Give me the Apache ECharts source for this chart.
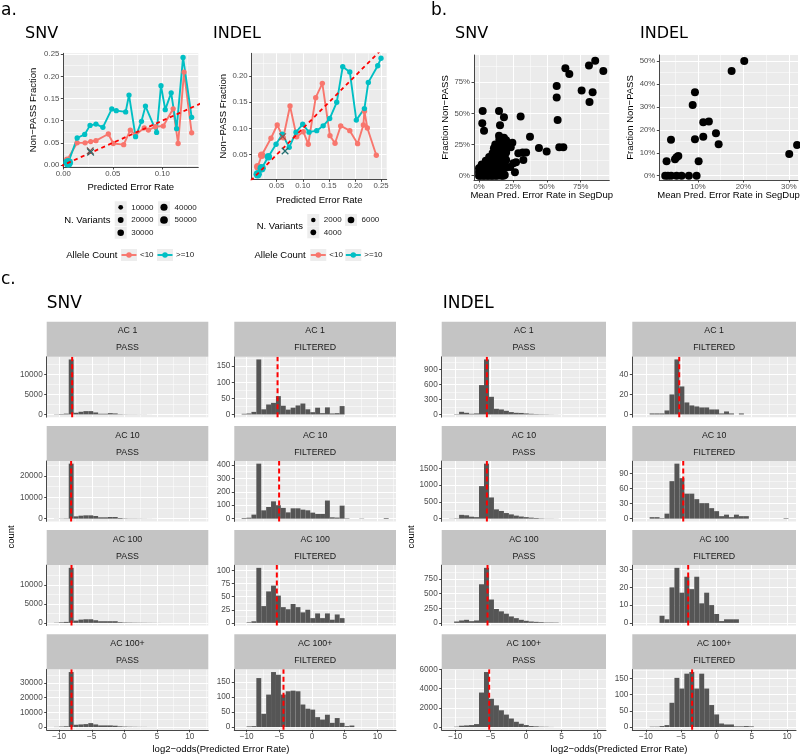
<!DOCTYPE html>
<html>
<head>
<meta charset="utf-8">
<title>Error rate figure</title>
<script src="https://cdn.jsdelivr.net/npm/echarts@6.0.0/dist/echarts.min.js"></script>
<style>
html,body{margin:0;padding:0;background:#ffffff;}
#chart{width:800px;height:755px;}
</style>
</head>
<body>
<div id="chart"></div>
<script>
// ================= DATA =================
// ---- Panel a: SNV ----
const snvLowX  = [0.004,0.014,0.022,0.0277,0.033,0.0455,0.0505,0.061,0.0677,0.073,0.0818,0.086,0.093,0.101,0.111,0.116,0.122,0.1297];
const snvLowY  = [0.012,0.05,0.05,0.053,0.055,0.07,0.0486,0.046,0.079,0.0675,0.084,0.079,0.0864,0.088,0.127,0.0486,0.21,0.0727];
const snvLowN  = [30000,15000,15000,15000,15000,15000,15000,15000,15000,15000,15000,15000,15000,15000,15000,15000,15000,15000];
const snvHighX = [0.005,0.014,0.0216,0.027,0.033,0.040,0.049,0.0535,0.063,0.0664,0.073,0.079,0.083,0.0943,0.0987,0.103,0.109,0.1145,0.121,0.1297];
const snvHighY = [0.005,0.061,0.069,0.0895,0.0925,0.085,0.1266,0.1227,0.12,0.158,0.064,0.0986,0.133,0.0736,0.179,0.125,0.163,0.082,0.243,0.1077];
const snvHighN = [95000,15000,15000,15000,15000,15000,15000,15000,15000,15000,15000,15000,15000,15000,15000,15000,15000,15000,15000,15000];
const snvMeanLow  = [0.0272,0.032];
const snvMeanHigh = [0.0276,0.029];
const snvSizeLegend = [10000,20000,30000,40000,50000];
// ---- Panel a: INDEL ----
const indLowX  = [0.0136,0.0212,0.039,0.051,0.0626,0.0755,0.0883,0.1009,0.1105,0.1247,0.1374,0.152,0.1617,0.1726,0.19,0.205,0.216,0.218,0.2236,0.2408];
const indLowY  = [0.027,0.049,0.0813,0.1066,0.0824,0.143,0.084,0.0938,0.07,0.1588,0.1862,0.0863,0.0718,0.1048,0.0958,0.071,0.1066,0.133,0.101,0.049];
const indLowN  = [8000,8000,3400,3400,3400,3400,3400,3400,3400,3400,3400,3400,3400,3400,3400,3400,3400,3400,3400,3400];
const indHighX = [0.0136,0.0212,0.034,0.0487,0.0607,0.074,0.087,0.0998,0.112,0.1266,0.139,0.1515,0.165,0.1765,0.19,0.2025,0.218,0.2255,0.2435,0.2498];
const indHighY = [0.0126,0.024,0.046,0.07,0.089,0.064,0.093,0.108,0.093,0.0958,0.105,0.119,0.15,0.218,0.208,0.116,0.138,0.188,0.2198,0.234];
const indHighN = [11000,11000,8000,3400,3400,3400,3400,3400,3400,3400,3400,3400,3400,3400,3400,3400,3400,3400,3400,3400];
const indMeanLow  = [0.0614,0.0843];
const indMeanHigh = [0.066,0.057];
const indSizeLegend = [2000,4000,6000];

// ---- Panel b: SegDup scatter ----
const snvSegdup = [
 [0.0,0.0],[0.01,0.0],[0.02,0.005],[0.03,0.0],[0.04,0.0],[0.05,0.005],[0.06,0.0],[0.07,0.0],[0.08,0.005],[0.09,0.0],[0.1,0.0],[0.11,0.005],[0.12,0.0],[0.135,0.0],[0.15,0.005],[0.165,0.0],[0.18,0.0],[0.19,0.005],
 [0.0,0.03],[0.01,0.025],[0.02,0.035],[0.03,0.03],[0.04,0.025],[0.05,0.035],[0.06,0.03],[0.07,0.025],[0.08,0.035],[0.09,0.03],[0.1,0.025],[0.11,0.035],[0.12,0.03],[0.13,0.025],[0.145,0.035],[0.16,0.03],[0.175,0.025],
 [0.0,0.06],[0.012,0.065],[0.025,0.055],[0.04,0.06],[0.055,0.065],[0.07,0.055],[0.085,0.06],[0.1,0.065],[0.115,0.055],[0.13,0.06],[0.145,0.065],[0.16,0.055],[0.175,0.06],[0.2,0.065],[0.23,0.07],
 [0.02,0.09],[0.04,0.085],[0.06,0.095],[0.08,0.09],[0.1,0.085],[0.12,0.095],[0.14,0.09],[0.16,0.085],[0.19,0.09],[0.253,0.1],[0.273,0.108],
 [0.05,0.12],[0.07,0.125],[0.09,0.115],[0.11,0.12],[0.13,0.125],[0.15,0.115],[0.17,0.12],[0.2,0.125],
 [0.075,0.15],[0.095,0.145],[0.115,0.155],[0.135,0.15],[0.16,0.145],[0.19,0.15],
 [0.1,0.18],[0.12,0.185],[0.14,0.175],[0.17,0.18],[0.2,0.185],[0.234,0.228],
 [0.11,0.22],[0.13,0.225],[0.15,0.215],[0.19,0.22],[0.209,0.241],[0.246,0.265],
 [0.12,0.25],[0.14,0.245],[0.18,0.255],[0.15,0.29],[0.2,0.285],[0.265,0.027],
 [0.027,0.52],[0.024,0.421],[0.037,0.361],[0.1475,0.52],[0.184,0.469],[0.155,0.404],[0.1475,0.321],[0.184,0.305],
 [0.307,0.475],[0.376,0.313],[0.442,0.222],[0.499,0.193],[0.592,0.228],[0.622,0.228],[0.58,0.446],[0.573,0.627],
 [0.573,0.721],[0.637,0.862],[0.666,0.816],[0.757,0.683],[0.811,0.884],[0.857,0.922],[0.917,0.841],[0.838,0.669],
 [0.815,0.591],[0.29,0.18],[0.322,0.185],[0.347,0.185],[0.327,0.126]
];
const indSegdup = [
 [0.2018,0.501],[0.174,0.457],[0.0934,0.364],[0.0884,0.309],[0.1117,0.233],[0.124,0.237],[0.1117,0.170],[0.1396,0.185],
 [0.1455,0.137],[0.0934,0.159],[0.1015,0.063],[0.3007,0.095],[0.318,0.134],[0.0407,0.157],[0.031,0.063],[0.0495,0.0716],
 [0.0568,0.086],[0.053,0.08],[0.028,0],[0.034,0],[0.041,0],[0.053,0],[0.064,0],[0.080,0],[0.097,0]
];

// ---- Panel c: histograms of log2-odds (30 bins each) ----
const snvBinStart = -10.775, snvBinWidth = 0.75;
const indBinStart = -10.87,  indBinWidth = 0.703;
const acLabels = ['AC 1','AC 10','AC 100','AC 100+'];
const snvPassCounts = [
 [60,120,200,13750,420,670,830,830,500,170,170,330,250,80,50,40,40,30,30,10,5,0,0,0,0,0,0,0,0,0],
 [50,100,150,25700,1077,1385,1540,1540,1230,615,615,770,770,300,150,100,100,80,60,40,20,0,0,0,0,0,0,0,0,0],
 [50,150,250,14570,600,860,950,950,690,430,430,430,430,170,100,80,60,50,40,30,20,10,0,0,0,0,0,0,0,0],
 [100,300,500,37300,1550,1780,2000,2670,1780,1100,1100,1100,900,450,300,200,150,100,80,50,30,0,0,0,0,0,0,0,0,0]
];
const snvFiltCounts = [
 [2,3,8,171,16,31,36,57,27,15,21,28,34,16,7,21,4,22,3,4,26,0,0,0,0,0,0,0,0,0],
 [5,7,30,410,62,87,129,100,80,47,77,77,67,62,45,35,35,135,10,8,97,3,0,0,2,0,0,0,0,5],
 [0,1,3,105,32,60,71,52,30,26,36,30,20,25,9,18,9,18,6,16,9,0,0,0,0,0,0,0,0,0],
 [0,2,3,163,44,108,183,174,108,119,121,119,75,61,58,33,25,41,14,30,14,3,5,0,0,0,0,0,0,0]
];
const indPassCounts = [
 [0,7,53,33,13,20,587,1100,353,113,100,73,47,33,30,20,13,8,6,5,3,2,1,0,0,0,0,0,0,0],
 [5,10,113,100,58,45,970,1640,632,277,230,167,127,90,63,45,30,20,10,5,5,3,0,0,0,0,0,0,0,0],
 [0,23,41,52,29,41,663,945,401,238,198,157,110,81,52,35,23,17,12,6,6,5,0,0,0,0,0,0,0,0],
 [0,34,137,170,206,309,3600,5740,2950,2264,1750,1300,890,550,343,206,103,70,34,25,10,0,0,0,0,0,0,0,0,0]
];
const indFiltCounts = [
 [0,0,1,1,1,4,20,55,28,12,9,8,7,7,5,5,1,3,1,0,1,0,0,0,0,0,0,0,0,0],
 [0,0,3,3,1,10,75,110,81,50,50,39,31,31,21,15,5,8,3,8,5,5,0,0,0,0,0,0,0,1],
 [0,0,0,0,4,2,20,31,17,26,19,26,11,17,10,5,1,2,2,2,0,0,0,0,0,0,0,0,0,0],
 [0,0,1,1,3,6,75,152,119,165,170,119,165,119,68,39,11,8,8,2,2,3,2,0,0,0,0,0,0,0]
];
const snvPassMedian = [-8.0,-8.16,-8.1,-8.1];
const snvFiltMedian = [-5.28,-5.04,-5.39,-4.37];
const indPassMedian = [-5.54,-5.54,-5.45,-5.21];
const indFiltMedian = [-5.27,-4.7,-4.0,-3.44];

// ---- tick labels ----
const snvAXTicks = [0,0.05,0.10];
const snvAYTicks = [0,0.05,0.10,0.15,0.20,0.25];
const indAXTicks = [0.05,0.10,0.15,0.20,0.25];
const indAYTicks = [0.05,0.10,0.15,0.20];
const snvBTicks  = [0,0.25,0.5,0.75];
const indBXTicks = [0.1,0.2,0.3];
const indBYTicks = [0,0.1,0.2,0.3,0.4,0.5];
const histXTicks = [-10,-5,0,5,10];
const snvPassTicks = [[0,5000,10000],[0,10000,20000],[0,5000,10000],[0,10000,20000,30000]];
const snvFiltTicks = [[0,50,100,150],[0,100,200,300,400],[0,25,50,75,100],[0,50,100,150]];
const indPassTicks = [[0,300,600,900],[0,500,1000,1500],[0,250,500,750],[0,2000,4000,6000]];
const indFiltTicks = [[0,20,40],[0,30,60,90],[0,10,20,30],[0,50,100,150]];

// ================= BUILD =================
const FONT = 'Liberation Sans';
const TFONT = 'DejaVu Sans';
const RED = '#F8766D', TEAL = '#00BFC4', BAR = '#555555';
const STRIP = '#c4c4c4';
const grids = [], xAxes = [], yAxes = [], series = [], elements = [];

function minors(t, lo, hi) {
  const s = t[1] - t[0], out = [];
  for (let v = t[0] - s / 2; v <= hi + 1e-9; v += s) {
    const r = Math.round(v * 1e6) / 1e6;
    if (r >= lo) out.push(r);
  }
  return out;
}
const fmt2 = v => v.toFixed(2);
const pct = v => Math.round(v * 100) + '%';
const intf = v => String(v);
const minusf = v => (v < 0 ? '\u2212' + Math.abs(v) : String(v));

function panel(o) {
  const gi = grids.length, xi = xAxes.length, yi = yAxes.length;
  grids.push({left:o.l, top:o.t, width:o.w, height:o.h, show:true, backgroundColor:'#ebebeb', borderWidth:0, containLabel:false});
  const lab = {color:'#4d4d4d', fontSize:o.fs, fontFamily:FONT};
  const axLine = {color:'#333333', width:0.9};
  xAxes.push({type:'value', gridIndex:gi, min:o.x0, max:o.x1, position:'bottom',
    axisLine:{show:!!o.xLab, onZero:false, lineStyle:axLine},
    axisTick:{show:!!o.xLab, length:2.5, customValues:o.xt, lineStyle:axLine},
    axisLabel:Object.assign({show:!!o.xLab, customValues:o.xt, formatter:o.xf, margin:3}, lab),
    splitLine:{show:true, lineStyle:{color:'#ffffff', width:1}}});
  xAxes.push({type:'value', gridIndex:gi, min:o.x0, max:o.x1, position:'top',
    axisLine:{show:false}, axisTick:{show:false, customValues:minors(o.xt, o.x0, o.x1)}, axisLabel:{show:false},
    splitLine:{show:true, lineStyle:{color:'#ffffff', width:0.5}}});
  yAxes.push({type:'value', gridIndex:gi, min:o.y0, max:o.y1, position:'left',
    axisLine:{show:true, onZero:false, lineStyle:axLine},
    axisTick:{show:true, length:2.5, customValues:o.yt, lineStyle:axLine},
    axisLabel:Object.assign({show:true, customValues:o.yt, formatter:o.yf, margin:4}, lab),
    splitLine:{show:true, lineStyle:{color:'#ffffff', width:1}}});
  yAxes.push({type:'value', gridIndex:gi, min:o.y0, max:o.y1, position:'right',
    axisLine:{show:false}, axisTick:{show:false, customValues:minors(o.yt, o.y0, o.y1)}, axisLabel:{show:false},
    splitLine:{show:true, lineStyle:{color:'#ffffff', width:0.5}}});
  return {xAxisIndex:xi, yAxisIndex:yi};
}

function txt(text, x, y, size, opt) {
  opt = opt || {};
  elements.push({type:'text', x:x, y:y, rotation:opt.rot || 0, silent:true, z:50,
    style:{text:text, fontSize:size, fontFamily:opt.font || FONT, fill:opt.fill || '#000000',
      align:opt.align || 'left', verticalAlign:'middle'}});
}
function rect(x, y, w, h, fill) {
  elements.push({type:'rect', silent:true, z:40, shape:{x:x, y:y, width:w, height:h}, style:{fill:fill}});
}
function circ(cx, cy, d, fill) {
  elements.push({type:'circle', silent:true, z:45, shape:{cx:cx, cy:cy, r:d / 2}, style:{fill:fill}});
}
function seg(x1, y1, x2, y2, color, w) {
  elements.push({type:'line', silent:true, z:45, shape:{x1:x1, y1:y1, x2:x2, y2:y2}, style:{stroke:color, lineWidth:w}});
}

const pairs = (xs, ys) => xs.map((x, i) => [x, ys[i]]);
const snvSize = n => 2.4 + 7.5 * Math.sqrt(n / 100000);
const indSize = n => 1.6 + 5.8 * Math.sqrt(n / 8000);
const XPATH = 'path://M0,1.2L1.2,0L5,3.8L8.8,0L10,1.2L6.2,5L10,8.8L8.8,10L5,6.2L1.2,10L0,8.8L3.8,5Z';

function rateSeries(ax, xs, ys, ns, color, sizeFn) {
  series.push(Object.assign({type:'line', data:pairs(xs, ys), symbol:'circle', showSymbol:true, showAllSymbol:true,
    symbolSize:(v, p) => sizeFn(ns[p.dataIndex]), lineStyle:{color:color, width:1.9}, itemStyle:{color:color, opacity:1},
    silent:true, clip:false, z:3}, ax));
}
function diag(ax, lo, hi) {
  series.push(Object.assign({type:'line', data:[[lo, lo], [hi, hi]], symbol:'none',
    lineStyle:{color:'#ff0000', width:1.8, type:[4, 3.5]}, silent:true, clip:true, z:4}, ax));
}
function meanMark(ax, pt, color) {
  series.push(Object.assign({type:'scatter', data:[pt], symbol:XPATH, symbolSize:7.5, itemStyle:{color:color, opacity:1},
    silent:true, clip:false, z:5}, ax));
}

// ---------- Panel a ----------
let ax = panel({l:63.3, t:53.3, w:135, h:113.7, x0:0, x1:0.1364, y0:-0.0045, y1:0.2523,
  xt:snvAXTicks, yt:snvAYTicks, xf:fmt2, yf:fmt2, fs:7.8, xLab:true});
rateSeries(ax, snvLowX, snvLowY, snvLowN, RED, snvSize);
rateSeries(ax, snvHighX, snvHighY, snvHighN, TEAL, snvSize);
diag(ax, -0.01, 0.3);
meanMark(ax, snvMeanLow, '#7d4f4b');
meanMark(ax, snvMeanHigh, '#2f6a69');

ax = panel({l:251.7, t:53.3, w:135, h:126, x0:0.0021, x1:0.2607, y0:0.003, y1:0.2435,
  xt:indAXTicks, yt:indAYTicks, xf:fmt2, yf:fmt2, fs:7.8, xLab:true});
rateSeries(ax, indLowX, indLowY, indLowN, RED, indSize);
rateSeries(ax, indHighX, indHighY, indHighN, TEAL, indSize);
diag(ax, -0.01, 0.3);
meanMark(ax, indMeanLow, '#9a5049');
meanMark(ax, indMeanHigh, '#226e70');

// ---------- Panel b ----------
ax = panel({l:474, t:55, w:135.3, h:125, x0:-0.037, x1:0.961, y0:-0.035, y1:0.969,
  xt:snvBTicks, yt:snvBTicks, xf:pct, yf:pct, fs:7.8, xLab:true});
series.push(Object.assign({type:'scatter', data:snvSegdup, symbol:'circle', symbolSize:8,
  itemStyle:{color:'#000000', opacity:1}, silent:true, clip:false}, ax));
ax = panel({l:659.3, t:55, w:138.7, h:125, x0:0.015, x1:0.32, y0:-0.019, y1:0.527,
  xt:indBXTicks, yt:indBYTicks, xf:pct, yf:pct, fs:7.8, xLab:true});
series.push(Object.assign({type:'scatter', data:indSegdup, symbol:'circle', symbolSize:8,
  itemStyle:{color:'#000000', opacity:1}, silent:true, clip:false}, ax));

// ---------- Panel c ----------
const rowTop0 = 321.7, rowPitch = 104.2, stripH = 35, plotH = 60.5;
function histPanel(col, r, counts, ticks, median, start, width, xr, status) {
  const st = rowTop0 + r * rowPitch;
  const maxC = Math.max.apply(null, counts);
  const y0 = -0.05 * maxC, y1 = 1.05 * maxC;
  const a = panel({l:col.l, t:st + stripH, w:col.w, h:plotH, x0:xr[0], x1:xr[1], y0:y0, y1:y1,
    xt:histXTicks, yt:ticks, xf:minusf, yf:intf, fs:8.2, xLab:r === 3});
  const data = counts.map((c, k) => [start + k * width, start + (k + 1) * width, c]);
  series.push(Object.assign({type:'custom', coordinateSystem:'cartesian2d', data:data, silent:true, clip:false, z:2,
    encode:{x:[0, 1], y:2},
    renderItem:(params, api) => {
      const p0 = api.coord([api.value(0), 0]);
      const p1 = api.coord([api.value(1), api.value(2)]);
      return {type:'rect', shape:{x:p0[0], y:p1[1], width:p1[0] - p0[0], height:p0[1] - p1[1]}, style:{fill:BAR}};
    }}, a));
  series.push(Object.assign({type:'line', data:[[median, y0], [median, y1]], symbol:'none',
    lineStyle:{color:'#ff0000', width:2, type:[5, 3]}, silent:true, z:4}, a));
  rect(col.l, st, col.w, stripH, STRIP);
  txt(acLabels[r], col.l + col.w / 2, st + 9.3, 8.8, {align:'center', fill:'#1a1a1a'});
  txt(status, col.l + col.w / 2, st + 26.3, 8.8, {align:'center', fill:'#1a1a1a'});
}
const snvX = [-11.9, 12.85], indX = [-11.92, 11.28];
const cSnvPass = {l:46.7, w:161.6}, cSnvFilt = {l:234.3, w:161.7};
const cIndPass = {l:441.7, w:164.3}, cIndFilt = {l:632.3, w:163.7};
for (let r = 0; r < 4; r++) {
  histPanel(cSnvPass, r, snvPassCounts[r], snvPassTicks[r], snvPassMedian[r], snvBinStart, snvBinWidth, snvX, 'PASS');
  histPanel(cSnvFilt, r, snvFiltCounts[r], snvFiltTicks[r], snvFiltMedian[r], snvBinStart, snvBinWidth, snvX, 'FILTERED');
  histPanel(cIndPass, r, indPassCounts[r], indPassTicks[r], indPassMedian[r], indBinStart, indBinWidth, indX, 'PASS');
  histPanel(cIndFilt, r, indFiltCounts[r], indFiltTicks[r], indFiltMedian[r], indBinStart, indBinWidth, indX, 'FILTERED');
}

// ---------- Text / titles ----------
txt('a.', 1, 11, 17, {font:TFONT});
txt('SNV', 25, 33.5, 16, {font:TFONT});
txt('INDEL', 213, 33.5, 16, {font:TFONT});
txt('b.', 431, 11, 17, {font:TFONT});
txt('SNV', 455, 33.5, 16, {font:TFONT});
txt('INDEL', 640, 33.5, 16, {font:TFONT});
txt('c.', 1, 280, 17, {font:TFONT});
txt('SNV', 46.7, 303.3, 17, {font:TFONT});
txt('INDEL', 442.7, 303.3, 17, {font:TFONT});

txt('Non\u2212PASS Fraction', 33.3, 110, 9.5, {rot:Math.PI / 2, align:'center'});
txt('Predicted Error Rate', 130.8, 187.3, 9.5, {align:'center'});
txt('Non\u2212PASS Fraction', 223.3, 116.3, 9.5, {rot:Math.PI / 2, align:'center'});
txt('Predicted Error Rate', 319.2, 200, 9.5, {align:'center'});
txt('Fraction Non\u2212PASS', 445, 117.5, 9.5, {rot:Math.PI / 2, align:'center'});
txt('Mean Pred. Error Rate in SegDup', 541.7, 195, 9.5, {align:'center'});
txt('Fraction Non\u2212PASS', 630, 117.5, 9.5, {rot:Math.PI / 2, align:'center'});
txt('Mean Pred. Error Rate in SegDup', 728.5, 195, 9.5, {align:'center'});

txt('count', 11.7, 537, 9.5, {rot:Math.PI / 2, align:'center'});
txt('count', 411.7, 537, 9.5, {rot:Math.PI / 2, align:'center'});
txt('log2\u2212odds(Predicted Error Rate)', 221, 749.3, 9.5, {align:'center'});
txt('log2\u2212odds(Predicted Error Rate)', 619, 749.3, 9.5, {align:'center'});

// ---------- Legends (panel a) ----------
const KEY = 12, KEYBG = '#ededed';
txt('N. Variants', 110.5, 220, 9.5, {align:'right'});
const snvKeyPos = [[120.7, 207.3], [120.7, 220], [120.7, 232.7], [164, 207.3], [164, 220]];
snvSizeLegend.forEach((n, i) => {
  const p = snvKeyPos[i];
  rect(p[0] - KEY / 2, p[1] - KEY / 2, KEY, KEY, KEYBG);
  circ(p[0], p[1], snvSize(n), '#000000');
  txt(String(n), p[0] + 10.5, p[1], 8, {fill:'#1a1a1a'});
});
txt('N. Variants', 303, 226, 9.5, {align:'right'});
const indKeyPos = [[313.3, 220], [313.3, 232.3], [351, 220]];
indSizeLegend.forEach((n, i) => {
  const p = indKeyPos[i];
  rect(p[0] - KEY / 2, p[1] - KEY / 2, KEY, KEY, KEYBG);
  circ(p[0], p[1], indSize(n), '#000000');
  txt(String(n), p[0] + 10.5, p[1], 8, {fill:'#1a1a1a'});
});
function acKey(cx, cy, color, label) {
  rect(cx - 8, cy - 6, 16, 12, KEYBG);
  seg(cx - 7.5, cy, cx + 7.5, cy, color, 1.9);
  circ(cx, cy, 5.5, color);
  txt(label, cx + 11, cy, 8, {fill:'#1a1a1a'});
}
txt('Allele Count', 117.5, 255, 9.5, {align:'right'});
acKey(129, 255, RED, '<10');
acKey(165, 255, TEAL, '>=10');
txt('Allele Count', 305.7, 255, 9.5, {align:'right'});
acKey(318.3, 255, RED, '<10');
acKey(353.3, 255, TEAL, '>=10');

const chart = echarts.init(document.getElementById('chart'), null, {renderer:'canvas', width:800, height:755});
chart.setOption({
  animation:false,
  backgroundColor:'#ffffff',
  grid:grids, xAxis:xAxes, yAxis:yAxes, series:series,
  graphic:{elements:elements}
});
</script>
</body>
</html>
